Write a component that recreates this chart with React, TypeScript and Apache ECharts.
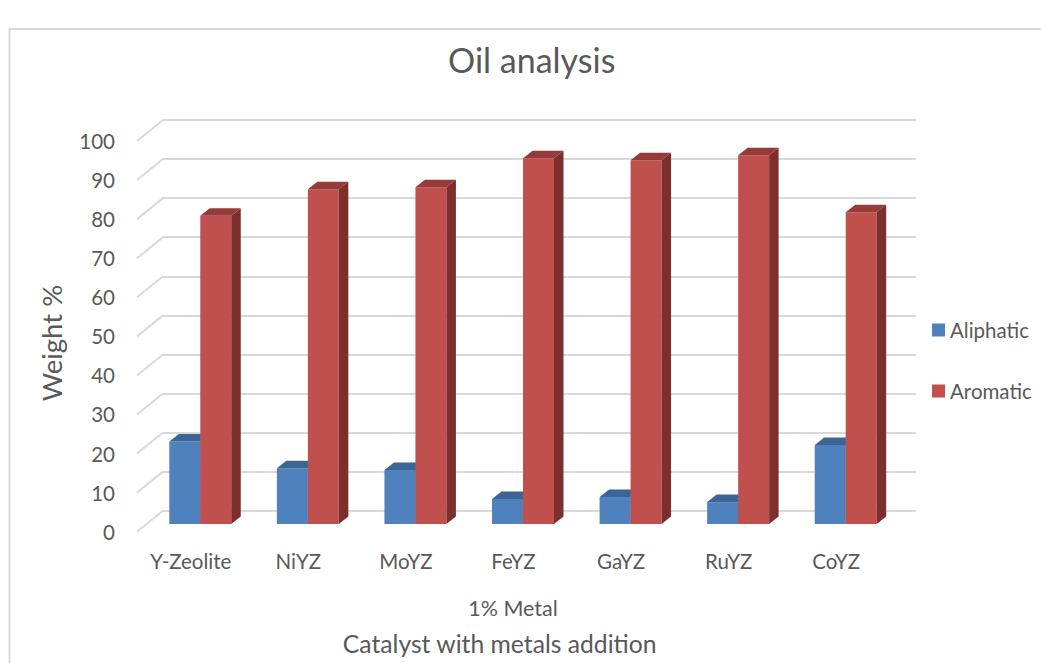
import React, { useEffect, useRef } from "react";
import * as echarts from "echarts";

// ---- data ----
const categories = ["Y-Zeolite", "NiYZ", "MoYZ", "FeYZ", "GaYZ", "RuYZ", "CoYZ"];
const aliphatic = [21.1, 14.3, 13.8, 6.4, 6.9, 5.6, 20.2];
const aromatic = [78.9, 85.7, 86.2, 93.6, 93.1, 94.4, 79.8];
const yTicks = [0, 10, 20, 30, 40, 50, 60, 70, 80, 90, 100];
const seriesNames = ["Aliphatic", "Aromatic"];

// ---- style / layout ----
const FONT = "Lato, 'Open Sans', sans-serif";
const TEXT = "#595959";
const GRID_C = "#d9d9d9";
const PLANE_W = 753;
const PLANE_H = 390.7;
const BACK = { left: 163, top: 120 };
const FRONT = { left: 137, top: 141 };
const BARS = { left: 146.5, top: 133.3 };
const DX = 9.5;
const DY = 7.5;
const BAR_FRAC = 0.288;

const palettes = [
  { front: "#4F81BD", top: "#3C6494", side: "#39608D" },
  { front: "#C0504D", top: "#953B39", side: "#7D2F2D" },
];

function barRender(sideIdx: number) {
  const pal = palettes[sideIdx];
  return (params: any, api: any) => {
    const idx = api.value(0);
    const v = api.value(1);
    const base = api.coord([idx, 0]);
    const top = api.coord([idx, v]);
    const band = api.size([1, 0])[0];
    const w = band * BAR_FRAC;
    const x0 = sideIdx === 0 ? base[0] - w : base[0];
    const x1 = x0 + w;
    const yb = base[1];
    const yt = top[1];
    return {
      type: "group",
      children: [
        {
          type: "polygon",
          shape: { points: [[x0, yt], [x1, yt], [x1, yb], [x0, yb]] },
          style: { fill: pal.front },
        },
        {
          type: "polygon",
          shape: { points: [[x0, yt], [x0 + DX, yt - DY], [x1 + DX, yt - DY], [x1, yt]] },
          style: { fill: pal.top },
        },
        {
          type: "polygon",
          shape: { points: [[x1, yt], [x1 + DX, yt - DY], [x1 + DX, yb - DY], [x1, yb]] },
          style: { fill: pal.side },
        },
      ],
    };
  };
}

export default function App() {
  const ref = useRef<HTMLDivElement>(null);
  useEffect(() => {
    if (!ref.current) return;
    const chart = echarts.init(ref.current, undefined, { renderer: "svg" });
    const grids = [BACK, FRONT, BARS].map((p) => ({
      left: p.left,
      top: p.top,
      width: PLANE_W,
      height: PLANE_H,
    }));
    const option: any = {
      animation: false,
      backgroundColor: "#ffffff",
      textStyle: { fontFamily: FONT },
      grid: grids,
      xAxis: [0, 1, 2].map((i) => ({
        type: "category",
        gridIndex: i,
        data: categories,
        axisLine: { show: false },
        axisTick: { show: false },
        splitLine: { show: false },
        axisLabel: {
          show: i === 1,
          margin: 19,
          fontSize: 20.5,
          color: TEXT,
          fontFamily: FONT,
        },
      })),
      yAxis: [0, 1, 2].map((i) => ({
        type: "value",
        gridIndex: i,
        min: 0,
        max: 100,
        interval: 10,
        axisLine: { show: false },
        axisTick: { show: false },
        splitLine: { show: i === 0, lineStyle: { color: GRID_C, width: 2 } },
        axisLabel: {
          show: i === 1,
          margin: 22,
          fontSize: 20.5,
          color: TEXT,
          fontFamily: FONT,
        },
      })),
      legend: {
        orient: "vertical",
        left: 927,
        top: 314,
        icon: "rect",
        itemWidth: 13,
        itemHeight: 13,
        itemGap: 39,
        data: seriesNames,
        textStyle: { fontSize: 20.5, color: TEXT, fontFamily: FONT, lineHeight: 22 },
      },
      series: [
        {
          type: "custom",
          name: "grid-depth",
          xAxisIndex: 0,
          yAxisIndex: 0,
          silent: true,
          data: yTicks.map((v) => [0, v]),
          renderItem: (params: any, api: any) => {
            const p = api.coord([0, api.value(1)]);
            const x0 = params.coordSys.x;
            return {
              type: "line",
              shape: {
                x1: x0,
                y1: p[1],
                x2: x0 + (FRONT.left - BACK.left),
                y2: p[1] + (FRONT.top - BACK.top),
              },
              style: { stroke: GRID_C, lineWidth: 2 },
            };
          },
        },
        {
          type: "custom",
          name: seriesNames[0],
          xAxisIndex: 2,
          yAxisIndex: 2,
          itemStyle: { color: palettes[0].front },
          data: aliphatic.map((v, i) => [i, v]),
          renderItem: barRender(0),
        },
        {
          type: "custom",
          name: seriesNames[1],
          xAxisIndex: 2,
          yAxisIndex: 2,
          itemStyle: { color: palettes[1].front },
          data: aromatic.map((v, i) => [i, v]),
          renderItem: barRender(1),
        },
      ],
      graphic: [
        {
          type: "rect",
          shape: { x: 9.5, y: 29, width: 1200, height: 800 },
          style: { fill: "none", stroke: GRID_C, lineWidth: 2 },
          silent: true,
        },
        {
          type: "text",
          x: 531.7,
          y: 59,
          style: {
            text: "Oil analysis",
            fontSize: 34,
            fontFamily: FONT,
            fill: TEXT,
            align: "center",
            verticalAlign: "middle",
          },
        },
        {
          type: "text",
          x: 51,
          y: 343,
          rotation: Math.PI / 2,
          style: {
            text: "Weight %",
            fontSize: 27.5,
            fontFamily: FONT,
            fill: TEXT,
            align: "center",
            verticalAlign: "middle",
          },
        },
        {
          type: "text",
          x: 513,
          y: 608,
          style: {
            text: "1% Metal",
            fontSize: 21.5,
            fontFamily: FONT,
            fill: TEXT,
            align: "center",
            verticalAlign: "middle",
          },
        },
        {
          type: "text",
          x: 499.7,
          y: 643,
          style: {
            text: "Catalyst with metals addition",
            fontSize: 24.7,
            fontFamily: FONT,
            fill: TEXT,
            align: "center",
            verticalAlign: "middle",
          },
        },
      ],
    };
    chart.setOption(option);
    return () => chart.dispose();
  }, []);
  return (
    <div
      ref={ref}
      style={{ position: "absolute", left: 0, top: 0, width: 1041, height: 663 }}
    />
  );
}
